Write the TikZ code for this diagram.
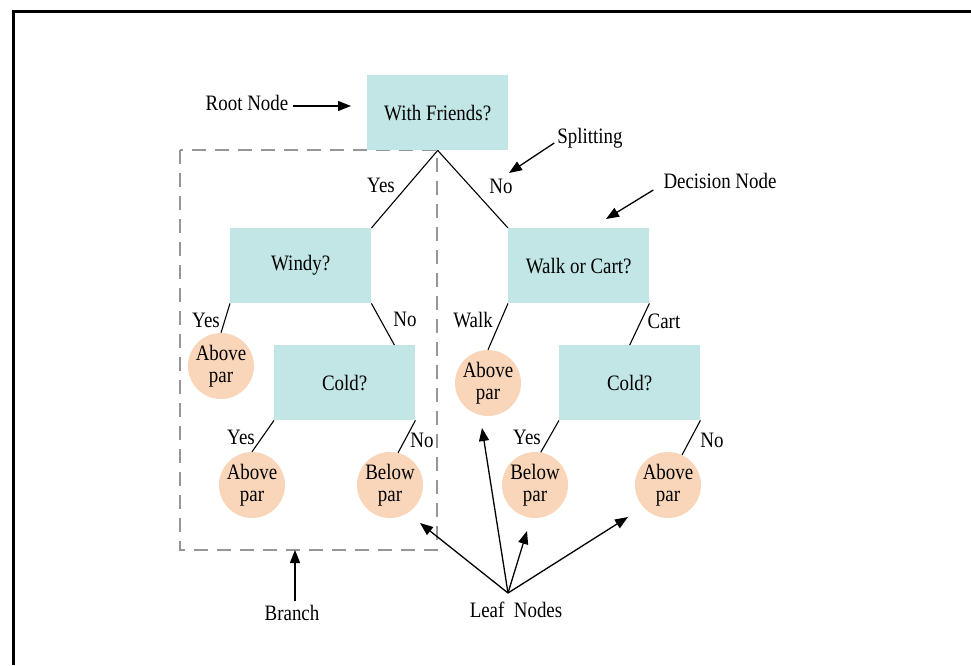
\documentclass[tikz,border=0pt]{standalone}
\usepackage{fontspec}
\setmainfont{Liberation Serif}[FakeStretch=0.86]
\usetikzlibrary{arrows.meta,calc}
\definecolor{boxfill}{RGB}{194,230,230}
\definecolor{leaffill}{RGB}{249,214,186}
\definecolor{dashgray}{RGB}{150,150,150}
\begin{document}
\begin{tikzpicture}[x=1pt,y=-1pt,
  every node/.style={font=\fontsize{22}{24}\selectfont},
  decbox/.style={rectangle,fill=boxfill,minimum width=141pt,minimum height=75pt,inner sep=0pt,anchor=north west},
  leaf/.style={circle,fill=leaffill,minimum size=66pt,inner sep=0pt,align=center,font=\fontsize{22}{22.5}\selectfont},
  lbl/.style={inner sep=0pt},
  edge/.style={line width=1.1pt,black},
  arr/.style={line width=1.3pt,black,-{Triangle[length=13pt,width=10pt]}}
]
\useasboundingbox (0,0) rectangle (971,665);
% frame
\draw[line width=3pt] (13.5,665) -- (13.5,11.5) -- (971,11.5);
% branch dashed rectangle
\draw[dashgray,line width=1.3pt,dash pattern=on 14pt off 9pt] (180,150) rectangle (437,550);
% decision boxes
\node[decbox] (root) at (367,75) {With Friends?};
\node[decbox] (windy) at (230,228) {Windy?};
\node[decbox] (coldA) at (274,345) {Cold?};
\node[decbox] (walk) at (508,228) {Walk or Cart?};
\node[decbox] (coldB) at (559,345) {Cold?};
% leaves
\node[leaf] (l1) at (221,366) {Above\\par};
\node[leaf] (l2) at (252,485) {Above\\par};
\node[leaf] (l3) at (390,485) {Below\\par};
\node[leaf] (r1) at (488,383) {Above\\par};
\node[leaf] (r2) at (535,485) {Below\\par};
\node[leaf] (r3) at (668,485) {Above\\par};
% edges
\draw[edge] (root.south) -- (windy.north east);
\draw[edge] (root.south) -- (walk.north west);
\draw[edge] (windy.south west) -- (l1.north);
\draw[edge] (windy.south east) -- ($(coldA.north east)+(-21,0)$);
\draw[edge] (coldA.south west) -- (l2.north);
\draw[edge] (coldA.south east) -- (l3.76);
\draw[edge] (walk.south west) -- (r1.north);
\draw[edge] (walk.south east) -- (coldB.north);
\draw[edge] (coldB.south west) -- (r2.80);
\draw[edge] (coldB.south east) -- (r3.65);
% edge labels
\node[lbl] (e1) at (381,185) {Yes};
\node[lbl] (e2) at (501,186) {No};
\node[lbl] (e3) at (206,320) {Yes};
\node[lbl] (e4) at (405,319) {No};
\node[lbl] (e5) at (241,437) {Yes};
\node[lbl] (e6) at (422,440) {No};
\node[lbl] (e7) at (473,320) {Walk};
\node[lbl] (e8) at (664,321) {Cart};
\node[lbl] (e9) at (527,437) {Yes};
\node[lbl] (e10) at (712,440) {No};
% annotations
\node[lbl] (rootlbl) at (247,103) {Root Node};
\coordinate (roottip) at (351,106);
\draw[arr] ($(rootlbl.east)+(5,3)$) -- (roottip);
\node[lbl] (split) at (590,138) {Splitting};
\coordinate (splittip) at (509,173);
\draw[arr] ($(split.west)+(-3,5)$) -- (splittip);
\node[lbl] (dec) at (720,181) {Decision Node};
\coordinate (dectip) at (606,219);
\draw[arr] ($(dec.west)+(-10,9)$) -- (dectip);
\node[lbl] (branch) at (292,613) {Branch};
\coordinate (branchtip) at (295,550);
\draw[arr] ($(branch.north)+(3,-4)$) -- (branchtip);
\node[lbl] (leafs) at (516,610) {Leaf\ \ Nodes};
\coordinate (lo) at (508,593);
\coordinate (t1) at (420,523);
\coordinate (t2) at (482,428);
\coordinate (t3) at (527,531);
\coordinate (t4) at (628,517);
\draw[arr] (lo) -- (t1);
\draw[arr] (lo) -- (t2);
\draw[arr] (lo) -- (t3);
\draw[arr] (lo) -- (t4);
\end{tikzpicture}
\end{document}
